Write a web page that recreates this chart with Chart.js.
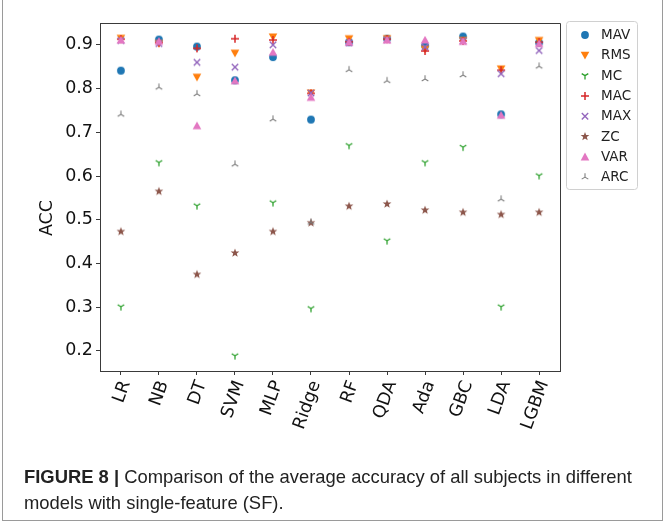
<!DOCTYPE html>
<html><head><meta charset="utf-8">
<script src="https://cdn.jsdelivr.net/npm/chart.js@4"></script>
<style>
html,body{margin:0;padding:0;background:#fff;width:667px;height:523px;overflow:hidden;}
#wrap{position:relative;width:667px;height:523px;}
#c{position:absolute;left:0;top:0;}
#frame{position:absolute;left:2px;top:-2px;width:661px;height:523px;border:1px solid #9a9a9a;box-sizing:border-box;pointer-events:none;}
#cap{position:absolute;left:24px;top:464px;font-family:'Liberation Sans',Arial,sans-serif;font-size:18.4px;color:#222;line-height:25.5px;white-space:nowrap;}
#cap b{font-weight:bold;}
</style>
</head><body>
<div id="wrap">
<canvas id="c" width="667" height="440"></canvas>
<div id="frame"></div>
<div id="cap"><b>FIGURE 8 |</b> Comparison of the average accuracy of all subjects in different<br>models with single-feature (SF).</div>
</div>
<script>
// ---- data ----
const categories = ['LR','NB','DT','SVM','MLP','Ridge','RF','QDA','Ada','GBC','LDA','LGBM'];
const seriesNames = ['MAV','RMS','MC','MAC','MAX','ZC','VAR','ARC'];
const yTickValues = [0.2,0.3,0.4,0.5,0.6,0.7,0.8,0.9];
const yAxisTitle = 'ACC';
const MAV = [0.841,0.912,0.896,0.819,0.872,0.729,0.906,0.914,0.898,0.919,0.741,0.905];
const RMS = [0.915,0.903,0.826,0.881,0.918,0.790,0.914,0.914,0.890,0.910,0.845,0.910];
const MC  = [0.301,0.631,0.532,0.189,0.539,0.297,0.670,0.452,0.631,0.666,0.301,0.601];
const MAC = [0.913,0.905,0.892,0.914,0.911,0.789,0.907,0.913,0.886,0.909,0.842,0.906];
const MAX = [0.910,0.903,0.860,0.849,0.900,0.790,0.905,0.912,0.895,0.909,0.834,0.887];
const ZC  = [0.473,0.565,0.375,0.424,0.473,0.493,0.531,0.536,0.522,0.517,0.512,0.517];
const VAR = [0.911,0.908,0.715,0.818,0.883,0.780,0.906,0.911,0.911,0.908,0.739,0.903];
const ARC = [0.741,0.803,0.788,0.627,0.730,0.494,0.843,0.818,0.822,0.831,0.547,0.851];
const seriesValues = [MAV,RMS,MC,MAC,MAX,ZC,VAR,ARC];

// ---- styles ----
const colors = ['#1f77b4','#ff7f0e','#2ca02c','#d62728','#9467bd','#8c564b','#e377c2','#7f7f7f'];
const markers = ['circle','tridownFilled','triY','plus','x','star','triUpFilled','triLambda'];

function drawMarker(ctx, kind, x, y, color){
  ctx.save();
  ctx.fillStyle = color; ctx.strokeStyle = color; ctx.lineCap='butt';
  ctx.beginPath();
  switch(kind){
    case 'circle': ctx.arc(x,y,3.9,0,Math.PI*2); ctx.fill(); break;
    case 'tridownFilled': ctx.moveTo(x-4.3,y-3.6); ctx.lineTo(x+4.3,y-3.6); ctx.lineTo(x,y+4.2); ctx.closePath(); ctx.fill(); break;
    case 'triUpFilled': ctx.moveTo(x-4.3,y+3.6); ctx.lineTo(x+4.3,y+3.6); ctx.lineTo(x,y-4.2); ctx.closePath(); ctx.fill(); break;
    case 'triY': ctx.lineWidth=1.3; ctx.moveTo(x,y); ctx.lineTo(x,y+3.8); ctx.moveTo(x,y); ctx.lineTo(x-3.3,y-2); ctx.moveTo(x,y); ctx.lineTo(x+3.3,y-2); ctx.stroke(); break;
    case 'triLambda': ctx.lineWidth=1.1; ctx.moveTo(x,y); ctx.lineTo(x,y-3.8); ctx.moveTo(x,y); ctx.lineTo(x-3.3,y+2); ctx.moveTo(x,y); ctx.lineTo(x+3.3,y+2); ctx.stroke(); break;
    case 'plus': ctx.lineWidth=1.5; ctx.moveTo(x-4,y); ctx.lineTo(x+4,y); ctx.moveTo(x,y-4); ctx.lineTo(x,y+4); ctx.stroke(); break;
    case 'x': ctx.lineWidth=1.4; ctx.moveTo(x-3.2,y-3.2); ctx.lineTo(x+3.2,y+3.2); ctx.moveTo(x-3.2,y+3.2); ctx.lineTo(x+3.2,y-3.2); ctx.stroke(); break;
    case 'star': {
      const R=4.6, r=1.9;
      for(let k=0;k<10;k++){
        const a = -Math.PI/2 + k*Math.PI/5; const rr = k%2===0?R:r;
        const px = x+rr*Math.cos(a), py = y+rr*Math.sin(a);
        if(k===0) ctx.moveTo(px,py); else ctx.lineTo(px,py);
      }
      ctx.closePath(); ctx.fill(); break;
    }
  }
  ctx.restore();
}
function markerCanvas(kind,color){
  const cv=document.createElement('canvas'); cv.width=12; cv.height=12;
  drawMarker(cv.getContext('2d'),kind,6,6,color); return cv;
}

const datasets = seriesNames.map((name,i)=>({
  label: name,
  data: seriesValues[i].map((v,j)=>({x:j,y:v})),
  pointStyle: markerCanvas(markers[i],colors[i]),
  pointRadius: 4, pointHoverRadius: 4,
  backgroundColor: colors[i], borderColor: colors[i],
  showLine: false,
  order: seriesNames.length - i
}));

const tickFont = {family:'DejaVu Sans', size:17.5};
const axisColor = '#3a3a3a';

const extras = {
  id:'extras',
  afterDraw(chart){
    const ctx = chart.ctx, a = chart.chartArea;
    ctx.save();
    ctx.strokeStyle = axisColor; ctx.lineWidth = 1;
    ctx.beginPath();
    ctx.moveTo(a.left, a.top+0.5); ctx.lineTo(a.right+0.5, a.top+0.5); ctx.lineTo(a.right+0.5, a.bottom);
    ctx.stroke();
    // y axis title
    ctx.save();
    ctx.translate(47, 218); ctx.rotate(-Math.PI/2);
    ctx.font = '17.5px "DejaVu Sans"'; ctx.fillStyle='#111'; ctx.textAlign='center'; ctx.textBaseline='middle';
    ctx.fillText(yAxisTitle, 0, 0);
    ctx.restore();
    // legend
    const lx=566, ly=21, lw=71, lh=168;
    ctx.fillStyle='rgba(255,255,255,0.8)'; ctx.strokeStyle='#d0d0d0'; ctx.lineWidth=1;
    ctx.beginPath();
    if(ctx.roundRect) ctx.roundRect(lx+0.5,ly+0.5,lw,lh,3); else ctx.rect(lx+0.5,ly+0.5,lw,lh);
    ctx.fill(); ctx.stroke();
    ctx.font = '13.5px "DejaVu Sans"'; ctx.textBaseline='middle'; ctx.textAlign='left';
    chart.data.datasets.forEach((ds,i)=>{
      const y = 35 + i*20.3;
      drawMarker(ctx, markers[i], 585, y, colors[i]);
      ctx.fillStyle='#222';
      ctx.fillText(ds.label, 601, y+0.5);
    });
    ctx.restore();
  }
};

new Chart(document.getElementById('c'), {
  type:'scatter',
  data:{datasets},
  options:{
    responsive:false, animation:false,
    layout:{padding:{left:0, top:23, right:107, bottom:0}},
    plugins:{legend:{display:false}, tooltip:{enabled:false}},
    scales:{
      x:{
        type:'linear', min:-0.55, max:11.55,
        afterBuildTicks(s){ s.ticks = categories.map((c,i)=>({value:i})); },
        afterFit(s){ s.height = 69; },
        ticks:{ callback:(v)=>categories[v], font:tickFont, color:'#111', minRotation:70, maxRotation:70, padding:3, labelOffset:5, autoSkip:false },
        grid:{ display:true, drawOnChartArea:false, drawTicks:true, tickLength:4, color:axisColor },
        border:{ display:true, color:axisColor }
      },
      y:{
        type:'linear', min:0.154, max:0.950,
        afterBuildTicks(s){ s.ticks = yTickValues.map(v=>({value:v})); },
        afterFit(s){ s.width = 100; },
        ticks:{ callback:(v)=>v.toFixed(1), font:tickFont, color:'#111', padding:3 },
        grid:{ display:true, drawOnChartArea:false, drawTicks:true, tickLength:4, color:axisColor },
        border:{ display:true, color:axisColor },
        title:{ display:false }
      }
    }
  },
  plugins:[extras]
});
</script>
</body></html>
